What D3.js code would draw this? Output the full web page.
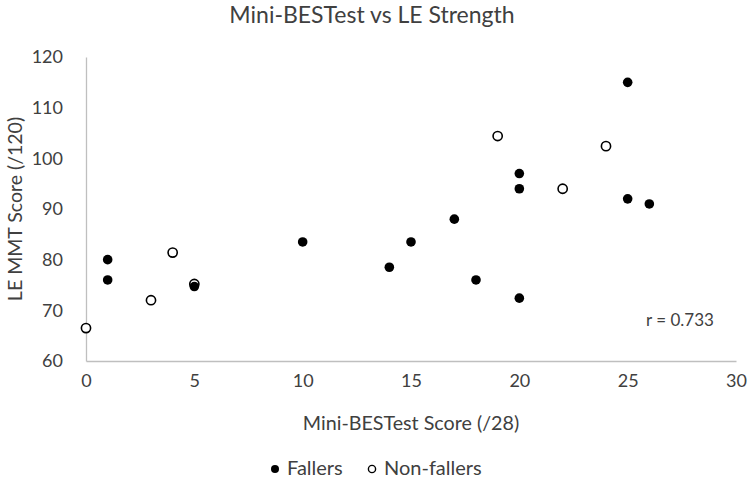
<!DOCTYPE html>
<html>
<head>
<meta charset="utf-8">
<script src="https://cdn.jsdelivr.net/npm/d3@7"></script>
<style>
  body { margin: 0; background: #fff; }
  text { font-family: Lato, "Open Sans", sans-serif; fill: #404040; }
</style>
</head>
<body>
<div id="chart"></div>
<script>
// data
let fallersX = [1, 1, 5, 10, 14, 15, 17, 18, 20, 20, 20, 25, 25, 26];
let fallersY = [80, 76, 74.7, 83.5, 78.5, 83.5, 88, 76, 97, 94, 72.4, 115, 92, 91];
let nonFallersX = [0, 3, 4, 5, 19, 22, 24];
let nonFallersY = [66.5, 72, 81.4, 75.2, 104.4, 94, 102.4];
let xTicks = [0, 5, 10, 15, 20, 25, 30];
let yTicks = [60, 70, 80, 90, 100, 110, 120];
let legendLabels = ["Fallers", "Non-fallers"];

let width = 750;
let height = 480;
let margin = {top: 57, right: 14, bottom: 119, left: 86};

let svg = d3.select("#chart")
    .append("svg")
    .attr("width", width)
    .attr("height", height);

let x = d3.scaleLinear()
    .domain([0, 30])
    .range([margin.left, width - margin.right]);
let y = d3.scaleLinear()
    .domain([60, 120])
    .range([height - margin.bottom, margin.top]);

// axes - just the lines and labels, no tick marks
let xAxis = svg.append("g")
    .attr("transform", "translate(0," + y(60) + ")")
    .call(d3.axisBottom(x).tickValues(xTicks).tickSize(0).tickPadding(13));
let yAxis = svg.append("g")
    .attr("transform", "translate(" + x(0) + ",0)")
    .call(d3.axisLeft(y).tickValues(yTicks).tickSize(0).tickPadding(23));

xAxis.select(".domain").attr("stroke", "#bfbfbf").attr("stroke-width", 1.3);
yAxis.select(".domain").attr("stroke", "#bfbfbf").attr("stroke-width", 1.3);
svg.selectAll(".tick text")
    .style("font-family", "Lato, sans-serif")
    .style("font-size", "18px")
    .style("fill", "#404040");
xAxis.selectAll(".tick text").attr("dy", "0.71em");

// points
let fallers = fallersX.map((d, i) => ({x: d, y: fallersY[i]}));
let nonFallers = nonFallersX.map((d, i) => ({x: d, y: nonFallersY[i]}));

svg.selectAll(".nonfaller")
    .data(nonFallers)
    .enter().append("circle")
    .attr("class", "nonfaller")
    .attr("cx", d => x(d.x))
    .attr("cy", d => y(d.y))
    .attr("r", 4.6)
    .attr("fill", "#fff")
    .attr("stroke", "#000")
    .attr("stroke-width", 1.6);

svg.selectAll(".faller")
    .data(fallers)
    .enter().append("circle")
    .attr("class", "faller")
    .attr("cx", d => x(d.x))
    .attr("cy", d => y(d.y))
    .attr("r", 4.8)
    .attr("fill", "#000");

// titles
svg.append("text")
    .attr("x", 372)
    .attr("y", 23)
    .attr("text-anchor", "middle")
    .style("font-size", "23px")
    .text("Mini-BESTest vs LE Strength");

svg.append("text")
    .attr("x", (x(0) + x(30)) / 2)
    .attr("y", 430)
    .attr("text-anchor", "middle")
    .style("font-size", "19.7px")
    .text("Mini-BESTest Score (/28)");

svg.append("text")
    .attr("transform", "translate(22," + (y(60) + y(120)) / 2 + ") rotate(-90)")
    .attr("text-anchor", "middle")
    .style("font-size", "19.5px")
    .text("LE MMT Score (/120)");

svg.append("text")
    .attr("x", 646)
    .attr("y", 326)
    .style("font-size", "17px")
    .text("r = 0.733");

// legend
let legendX = [275, 372];
let legend = svg.append("g").attr("class", "legend");
legend.selectAll("circle")
    .data(legendLabels)
    .enter().append("circle")
    .attr("cx", (d, i) => legendX[i])
    .attr("cy", 469)
    .attr("r", (d, i) => i == 0 ? 4 : 3.6)
    .attr("fill", (d, i) => i == 0 ? "#000" : "#fff")
    .attr("stroke", "#000")
    .attr("stroke-width", (d, i) => i == 0 ? 0 : 1.4);
legend.selectAll("text")
    .data(legendLabels)
    .enter().append("text")
    .attr("x", (d, i) => legendX[i] + 12)
    .attr("y", 475)
    .style("font-size", "20px")
    .text(d => d);
</script>
</body>
</html>
